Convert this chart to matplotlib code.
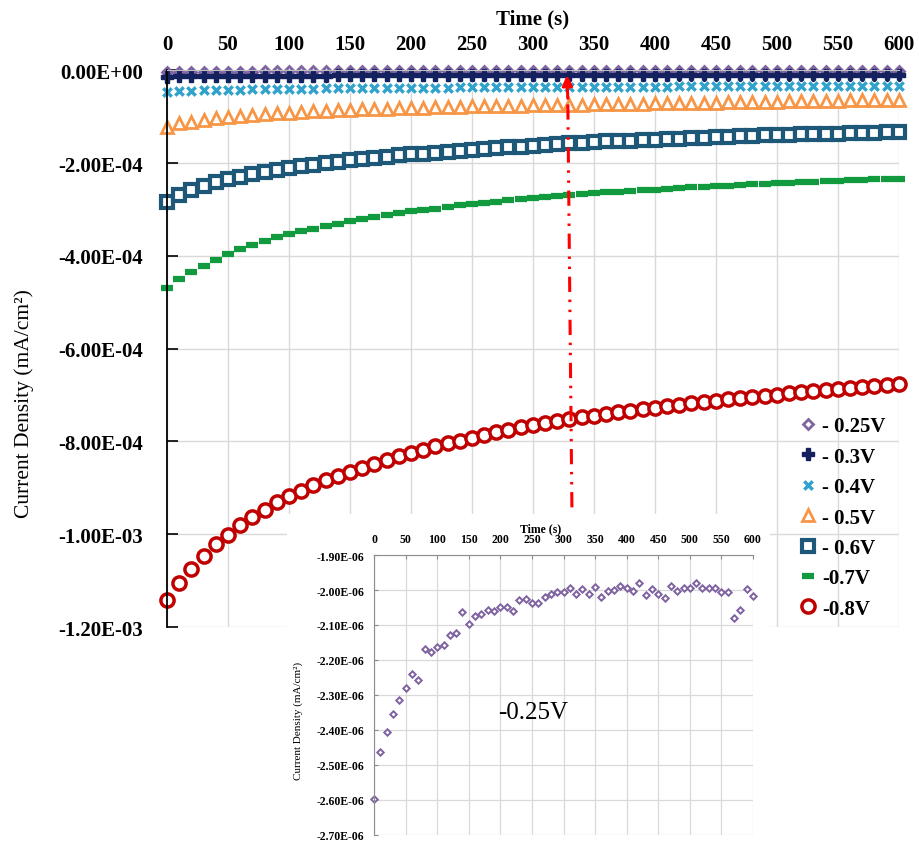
import numpy as np
import matplotlib
matplotlib.use("Agg")
import matplotlib.pyplot as plt
from matplotlib.patches import Rectangle
from matplotlib.ticker import FuncFormatter, MultipleLocator

plt.rcParams['font.family'] = ['Liberation Serif', 'DejaVu Serif']

# time axis, one reading every 10 s
time_s = np.arange(0, 601, 10)

# current density at -0.25 V (units of 1e-6 mA/cm2), also shown in the inset
j_025 = [-2.598, -2.463, -2.405, -2.353, -2.314, -2.279, -2.240, -2.257, -2.168, -2.177,
         -2.164, -2.158, -2.130, -2.122, -2.063, -2.096, -2.075, -2.070, -2.058, -2.060,
         -2.048, -2.048, -2.060, -2.028, -2.027, -2.038, -2.038, -2.019, -2.010, -2.007,
         -2.006, -1.993, -2.012, -1.998, -2.010, -1.990, -2.020, -2.002, -2.001, -1.989,
         -1.993, -2.003, -1.979, -2.013, -1.997, -2.011, -2.023, -1.988, -2.003, -1.993,
         -1.993, -1.980, -1.994, -1.994, -1.994, -2.007, -2.006, -2.080, -2.056, -1.998,
         -2.016]

# -0.3 V and -0.4 V (units of 1e-5)
j_03 = [1.30, 1.25, 1.22, 1.20, 1.18, 1.16, 1.15, 1.14, 1.13, 1.12,
        1.11, 1.10, 1.10, 1.09, 1.08, 1.08, 1.07, 1.07, 1.06, 1.06,
        1.05, 1.05, 1.04, 1.04, 1.04, 1.03, 1.03, 1.03, 1.02, 1.02,
        1.02, 1.01, 1.01, 1.01, 1.00, 1.00, 1.00, 1.00, 0.99, 0.99,
        0.99, 0.99, 0.98, 0.98, 0.98, 0.98, 0.97, 0.97, 0.97, 0.97,
        0.96, 0.96, 0.96, 0.96, 0.96, 0.95, 0.95, 0.95, 0.95, 0.95,
        0.94]
j_04 = [4.60, 4.45, 4.35, 4.28, 4.22, 4.16, 4.11, 4.07, 4.03, 3.99,
        3.96, 3.93, 3.90, 3.87, 3.85, 3.82, 3.80, 3.78, 3.76, 3.74,
        3.72, 3.70, 3.69, 3.67, 3.66, 3.64, 3.63, 3.61, 3.60, 3.59,
        3.57, 3.56, 3.55, 3.54, 3.53, 3.52, 3.51, 3.50, 3.49, 3.48,
        3.47, 3.46, 3.45, 3.44, 3.44, 3.43, 3.42, 3.41, 3.41, 3.40,
        3.39, 3.39, 3.38, 3.37, 3.37, 3.36, 3.35, 3.35, 3.34, 3.34,
        3.33]
# -0.5 V (units of 1e-5)
j_05 = [12.1, 11.4, 11.0, 10.6, 10.3, 10.0, 9.80, 9.60, 9.40, 9.25,
        9.10, 8.95, 8.80, 8.70, 8.60, 8.50, 8.40, 8.30, 8.22, 8.14,
        8.07, 8.00, 7.94, 7.88, 7.82, 7.76, 7.71, 7.66, 7.61, 7.56,
        7.52, 7.47, 7.43, 7.39, 7.35, 7.31, 7.27, 7.23, 7.19, 7.15,
        7.11, 7.07, 7.03, 6.99, 6.95, 6.91, 6.87, 6.83, 6.79, 6.75,
        6.71, 6.67, 6.63, 6.59, 6.55, 6.51, 6.47, 6.43, 6.39, 6.35,
        6.31]
# -0.6 V, -0.7 V, -0.8 V (units of 1e-4)
j_06 = [2.83, 2.68, 2.57, 2.48, 2.41, 2.35, 2.29, 2.24, 2.19, 2.15,
        2.11, 2.07, 2.03, 2.00, 1.97, 1.94, 1.91, 1.88, 1.86, 1.83,
        1.81, 1.79, 1.77, 1.75, 1.73, 1.71, 1.69, 1.67, 1.65, 1.64,
        1.62, 1.60, 1.59, 1.57, 1.56, 1.55, 1.53, 1.52, 1.51, 1.50,
        1.49, 1.48, 1.47, 1.46, 1.45, 1.44, 1.43, 1.42, 1.41, 1.40,
        1.39, 1.385, 1.38, 1.37, 1.365, 1.36, 1.35, 1.345, 1.34, 1.33,
        1.32]
j_07 = [4.68, 4.50, 4.35, 4.22, 4.08, 3.96, 3.85, 3.76, 3.67, 3.60,
        3.53, 3.47, 3.41, 3.35, 3.30, 3.25, 3.20, 3.16, 3.12, 3.08,
        3.04, 3.01, 2.98, 2.94, 2.91, 2.88, 2.86, 2.83, 2.80, 2.78,
        2.76, 2.73, 2.71, 2.69, 2.67, 2.65, 2.63, 2.62, 2.60, 2.58,
        2.57, 2.55, 2.54, 2.52, 2.51, 2.49, 2.48, 2.47, 2.45, 2.44,
        2.43, 2.42, 2.41, 2.40, 2.39, 2.38, 2.37, 2.36, 2.35, 2.34,
        2.33]
j_08 = [11.41, 11.06, 10.74, 10.46, 10.20, 10.01, 9.80, 9.62, 9.47, 9.30,
        9.17, 9.06, 8.94, 8.83, 8.74, 8.66, 8.57, 8.48, 8.39, 8.31,
        8.24, 8.18, 8.10, 8.03, 7.99, 7.92, 7.86, 7.80, 7.75, 7.69,
        7.64, 7.60, 7.56, 7.52, 7.48, 7.44, 7.40, 7.37, 7.34, 7.30,
        7.27, 7.24, 7.21, 7.18, 7.15, 7.12, 7.09, 7.07, 7.04, 7.01,
        6.99, 6.96, 6.94, 6.92, 6.89, 6.87, 6.85, 6.82, 6.80, 6.78,
        6.75]

labels = ['- 0.25V', '- 0.3V', '- 0.4V', '- 0.5V', '- 0.6V', '-0.7V', '-0.8V']


def sci_fmt(v, pos):
    if abs(v) < 1e-12:
        v = 0.0
    return f"{v:.2E}"


fig = plt.figure(figsize=(9.19, 8.45), dpi=100)
ax = fig.add_axes([0.1817, 0.2568, 0.7963, 0.6586])

ax.plot(time_s, np.array(j_025) * 1e-6, ls='none', marker='D', ms=5, mfc='white',
        mec='#8064A2', mew=2, clip_on=False, label=labels[0])
ax.plot(time_s, -np.array(j_03) * 1e-5, ls='none', marker='P', ms=8, color='#14215F',
        mec='#14215F', clip_on=False, label=labels[1])
ax.plot(time_s, -np.array(j_04) * 1e-5, ls='none', marker='X', ms=8, color='#31A2CC',
        mec='white', mew=0.6, clip_on=False, label=labels[2])
ax.plot(time_s, -np.array(j_05) * 1e-5, ls='none', marker='^', ms=8, mfc='white',
        mec='#F79646', mew=2, clip_on=False, label=labels[3])
ax.plot(time_s, -np.array(j_06) * 1e-4, ls='none', marker='s', ms=8.5, mfc='white',
        mec='#1D5878', mew=3, clip_on=False, label=labels[4])
ax.plot(time_s, -np.array(j_07) * 1e-4, ls='none', marker='_', ms=9, mec='#129A3E',
        mew=4.5, clip_on=False, label=labels[5])
ax.plot(time_s, -np.array(j_08) * 1e-4, ls='none', marker='o', ms=9.5, mfc='white',
        mec='#C00000', mew=2.5, clip_on=False, label=labels[6])

ax.set_xlim(0, 600)
ax.set_ylim(-1.2e-3, 0)
ax.xaxis.tick_top()
ax.xaxis.set_major_locator(MultipleLocator(50))
ax.yaxis.set_major_locator(MultipleLocator(2e-4))
ax.yaxis.set_major_formatter(FuncFormatter(sci_fmt))
ax.grid(True, color='#D9D9D9', lw=1)
ax.set_axisbelow(True)
for s in ['right', 'bottom']:
    ax.spines[s].set_visible(False)
ax.spines['left'].set_linewidth(1.3)
ax.spines['top'].set_color('#BFBFBF')
ax.tick_params(axis='y', direction='in', length=8, width=1.2, pad=17, labelsize=15)
ax.tick_params(axis='x', direction='in', length=6, width=1.2, pad=12, labelsize=15)
for t in ax.get_xticklabels() + ax.get_yticklabels():
    t.set_fontweight('bold')
ax.set_xlabel('Time (s)', fontweight='bold', fontsize=15)
ax.xaxis.set_label_position('top')
ax.xaxis.set_label_coords(0.5, 1.085)
ax.set_ylabel('Current Density (mA/cm²)', fontsize=15.5)
ax.yaxis.set_label_coords(-0.182, 0.404)

# red dash-dot-dot arrow marking ~330 s
ax.plot([332, 328.6], [-9.42e-4, -5.5e-5], color='red', lw=2.2,
        ls=(0, (5, 2.5, 0.8, 2.5, 0.8, 2.5)), zorder=6)
ax.annotate('', xy=(328, -1.0e-5), xytext=(328.6, -6.0e-5),
            arrowprops=dict(arrowstyle='-|>,head_length=0.6,head_width=0.3',
                            color='red', lw=2.2, shrinkA=0, shrinkB=0), zorder=6)

ax.legend(loc='upper left', bbox_to_anchor=(0.8563, 0.5185), bbox_transform=fig.transFigure,
          frameon=False, numpoints=1, handlelength=1.0, handletextpad=0.2, borderpad=0,
          labelspacing=0.5, prop=dict(weight='bold', size=15))

# white panel behind the inset
fig.patches.append(Rectangle((0.312, 0.0), 0.526, 0.3905, transform=fig.transFigure,
                             facecolor='white', edgecolor='none', zorder=1))

ax_in = fig.add_axes([0.407, 0.0107, 0.4124, 0.3313], zorder=2)
ax_in.plot(time_s, np.array(j_025) * 1e-6, ls='none', marker='D', ms=3.3, mfc='white',
           mec='#8064A2', mew=1.4, clip_on=False)
ax_in.set_xlim(0, 600)
ax_in.set_ylim(-2.70e-6, -1.90e-6)
ax_in.xaxis.tick_top()
ax_in.xaxis.set_major_locator(MultipleLocator(50))
ax_in.yaxis.set_major_locator(MultipleLocator(1e-7))
ax_in.yaxis.set_major_formatter(FuncFormatter(sci_fmt))
ax_in.grid(True, color='#D9D9D9', lw=0.9)
ax_in.set_axisbelow(True)
for s in ['right', 'bottom']:
    ax_in.spines[s].set_visible(False)
for s in ['left', 'top']:
    ax_in.spines[s].set_color('#8C8C8C')
ax_in.tick_params(direction='in', length=3, color='#8C8C8C', labelsize=8.5, pad=7)
for t in ax_in.get_xticklabels() + ax_in.get_yticklabels():
    t.set_fontweight('bold')
ax_in.set_xlabel('Time (s)', fontsize=8.5, fontweight='bold')
ax_in.xaxis.set_label_position('top')
ax_in.xaxis.set_label_coords(0.44, 1.085)
ax_in.set_ylabel('Current Density (mA/cm²)', fontsize=8)
ax_in.yaxis.set_label_coords(-0.187, 0.41)
ax_in.text(252, -2.35e-6, '-0.25V', fontsize=18, ha='center', va='center')

fig.savefig('out.png', dpi=100)
